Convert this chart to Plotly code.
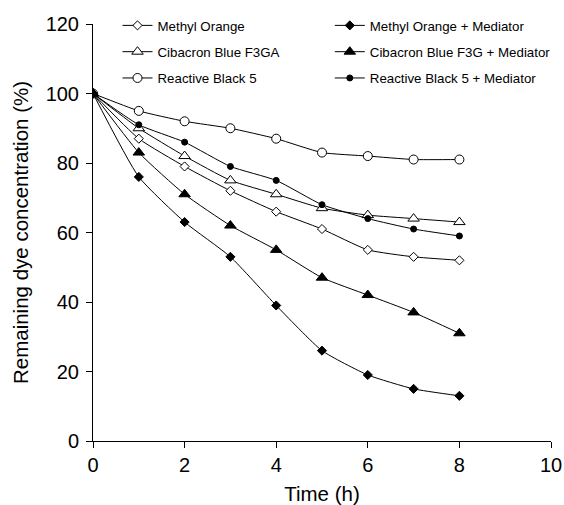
import plotly.graph_objects as go

time_h = [0, 1, 2, 3, 4, 5, 6, 7, 8]
methyl_orange = [100, 87, 79, 72, 66, 61, 55, 53, 52]
methyl_orange_med = [100, 76, 63, 53, 39, 26, 19, 15, 13]
cibacron = [100, 90, 82, 75, 71, 67, 65, 64, 63]
cibacron_med = [100, 83, 71, 62, 55, 47, 42, 37, 31]
rb5 = [100, 95, 92, 90, 87, 83, 82, 81, 81]
rb5_med = [100, 91, 86, 79, 75, 68, 64, 61, 59]

series = [
    ("Methyl Orange", methyl_orange, "diamond", 7, "white", "legend", "a"),
    ("Cibacron Blue F3GA", cibacron, "triangle-up", 10, "white", "legend", "b"),
    ("Reactive Black 5", rb5, "circle", 9, "white", "legend", "c"),
    ("Methyl Orange + Mediator", methyl_orange_med, "diamond", 7, "black", "legend2", "d"),
    ("Cibacron Blue F3G + Mediator", cibacron_med, "triangle-up", 10, "black", "legend2", "e"),
    ("Reactive Black 5 + Mediator", rb5_med, "circle", 6, "black", "legend2", "f"),
]

fig = go.Figure()
for name, vals, sym, size, fill, leg, grp in series:
    fig.add_trace(go.Scatter(
        x=time_h, y=vals, name=name, mode="lines+markers",
        line=dict(color="black", width=1, shape="spline", smoothing=0.5),
        marker=dict(symbol=sym, size=size, color=fill,
                    line=dict(color="black", width=1)),
        legend=leg, legendgroup=grp,
    ))

axis_common = dict(showline=True, linecolor="black", linewidth=1, ticks="outside",
                   ticklen=6, tickcolor="black", showgrid=False, zeroline=False,
                   automargin=False,
                   tickfont=dict(size=20, color="black"), title_font=dict(size=20.5, color="black"))

fig.update_layout(
    width=564, height=505,
    margin=dict(l=93, r=13, t=24, b=64, autoexpand=False),
    plot_bgcolor="white", paper_bgcolor="white",
    font=dict(family="Liberation Sans, Arial, sans-serif", color="black"),
    xaxis=dict(range=[0, 10], dtick=2, title_text="Time (h)", title_standoff=12, **axis_common),
    yaxis=dict(range=[0, 120], dtick=20, title_text="Remaining dye concentration (%)",
               title_standoff=11, ticklabelstandoff=3, **axis_common),
    legend=dict(x=0.0535, y=1.033, xanchor="left", yanchor="top", font=dict(size=13.3),
                bgcolor="rgba(0,0,0,0)", tracegroupgap=6, itemwidth=30),
    legend2=dict(x=0.517, y=1.033, xanchor="left", yanchor="top", font=dict(size=13.3),
                 bgcolor="rgba(0,0,0,0)", tracegroupgap=6, itemwidth=30),
)

fig.write_html("out.html", config={"displayModeBar": False},
               post_script="document.body.style.margin='0';document.body.style.overflow='hidden';")
